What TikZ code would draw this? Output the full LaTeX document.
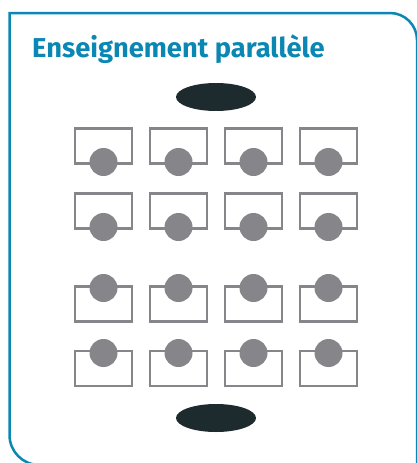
\documentclass[tikz,border=0pt]{standalone}
\usetikzlibrary{shapes.geometric}
\usepackage{fontspec}
\setmainfont{Fira Sans}
\definecolor{frameblue}{HTML}{0A87B2}
\definecolor{deskgray}{HTML}{86868A}
\definecolor{teacher}{HTML}{1D2A2E}
\begin{document}
\begin{tikzpicture}[x=1pt,y=-1pt,
  desk/.style={draw=deskgray,line width=2.5pt,fill=white,minimum width=57pt,minimum height=35pt,inner sep=0pt},
  pupil/.style={circle,fill=deskgray,minimum size=28pt,inner sep=0pt},
  prof/.style={ellipse,fill=teacher,minimum width=80pt,minimum height=28pt,inner sep=0pt}]
\useasboundingbox (0,0) rectangle (417,463);
\draw[frameblue,line width=2.5pt] (417,470) -- (417,40) .. controls (417,25.1) and (404.9,13) .. (390,13) -- (9.5,13) -- (9.5,435) .. controls (9.5,451.6) and (22.9,465) .. (39.5,465) -- (420,465);
\node[anchor=base west,text=frameblue,font=\bfseries\fontsize{27.3}{30}\selectfont,inner sep=0pt] (title) at (32,57) {Enseignement parallèle};
\node[prof] (t1) at (216,97) {};
\node[prof] (t2) at (216,418) {};
\foreach \c/\x in {1/103.5,2/178.5,3/253.5,4/328.5}{
  \node[desk] (d1\c) at (\x,146) {};
  \node[pupil] (p1\c) at (\x,162) {};
  \node[desk] (d2\c) at (\x,211) {};
  \node[pupil] (p2\c) at (\x,227) {};
  \node[desk] (d3\c) at (\x,304) {};
  \node[pupil] (p3\c) at (\x,288) {};
  \node[desk] (d4\c) at (\x,368.5) {};
  \node[pupil] (p4\c) at (\x,353) {};
}
\end{tikzpicture}
\end{document}
